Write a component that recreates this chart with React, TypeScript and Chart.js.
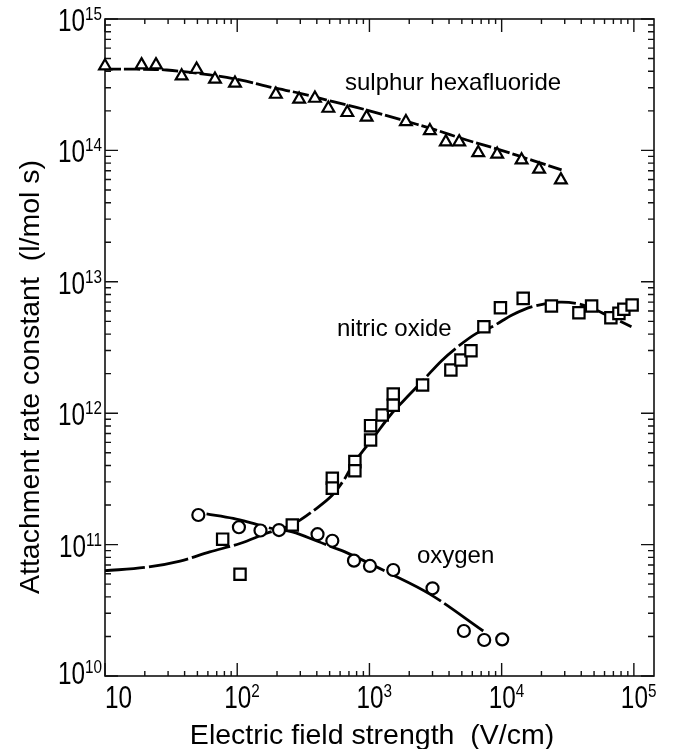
import { useEffect, useRef } from 'react';
import { Chart, registerables } from 'chart.js';

Chart.register(...registerables);

// ---- Data (electric field strength V/cm, attachment rate constant l/mol s) ----
const sf6Field = [10, 18.9, 24.3, 38, 49.3, 67.9, 96.2, 196, 294, 387, 489, 680, 952, 1888, 2865, 3784, 4774, 6650, 9250, 14150, 19200, 28050];
const sf6Rate = [4.39e14, 4.47e14, 4.47e14, 3.68e14, 4.14e14, 3.48e14, 3.24e14, 2.67e14, 2.45e14, 2.49e14, 2.09e14, 1.94e14, 1.79e14, 1.65e14, 1.41e14, 1.16e14, 1.16e14, 9.6e13, 9.34e13, 8.45e13, 7.18e13, 5.96e13];
const sf6FitField = [10, 17.3, 29.3, 62.2, 105, 187, 298, 532, 952, 1702, 3040, 5430, 9700, 17300, 28400];
const sf6FitRate = [4.15e14, 4.15e14, 4.09e14, 3.75e14, 3.44e14, 3.0e14, 2.72e14, 2.35e14, 2.03e14, 1.72e14, 1.45e14, 1.2e14, 1.01e14, 8.36e13, 7.1e13];

const noField = [77.6, 105, 261, 524, 524, 776, 776, 1020, 1020, 1250, 1514, 1514, 2523, 4130, 4920, 5860, 7340, 9790, 14550, 23800, 38400, 47900, 67000, 77100, 84000, 97000];
const noRate = [1.1e11, 5.95e10, 1.41e11, 3.2e11, 2.69e11, 4.28e11, 3.65e11, 8.04e11, 6.25e11, 9.7e11, 1.4e12, 1.15e12, 1.64e12, 2.13e12, 2.54e12, 2.99e12, 4.55e12, 6.35e12, 7.48e12, 6.55e12, 5.82e12, 6.55e12, 5.33e12, 5.75e12, 6.18e12, 6.66e12];
const noFitField = [10, 20, 37, 62, 105, 167, 261, 399, 518, 640, 753, 1069, 1469, 2000, 2600, 3500, 4560, 6450, 8630, 12000, 17300, 27500, 41400, 58600, 95900];
const noFitRate = [6.33e10, 6.7e10, 7.5e10, 8.8e10, 1.02e11, 1.22e11, 1.42e11, 1.89e11, 2.35e11, 3.1e11, 4.1e11, 6.5e11, 9.9e11, 1.38e12, 1.82e12, 2.5e12, 3.15e12, 4.05e12, 4.6e12, 5.6e12, 6.5e12, 7.0e12, 6.66e12, 5.75e12, 4.55e12];

const o2Field = [50.8, 103, 150, 207, 405, 524, 764, 1009, 1514, 3000, 5180, 7380, 10100];
const o2Rate = [1.68e11, 1.355e11, 1.28e11, 1.29e11, 1.2e11, 1.07e11, 7.55e10, 6.88e10, 6.41e10, 4.65e10, 2.2e10, 1.88e10, 1.9e10];
const o2FitField = [58.6, 93.3, 132, 187, 261, 405, 532, 653, 1349, 2865, 7260];
const o2FitRate = [1.71e11, 1.58e11, 1.45e11, 1.32e11, 1.25e11, 1.06e11, 9.5e10, 8.8e10, 6.2e10, 4.2e10, 2.2e10];

// ---- Axes ----
const X_MIN = 10;
const X_MAX = 1.42e5;
const Y_MIN = 1e10;
const Y_MAX = 1e15;
const xDecades = [1, 2, 3, 4, 5];
const yDecades = [10, 11, 12, 13, 14, 15];
const xTitle = 'Electric field strength  (V/cm)';
const yTitle = 'Attachment rate constant  (l/mol s)';

const seriesLabels = [
  { text: 'sulphur hexafluoride', x: 653, y: 2.88e14 },
  { text: 'nitric oxide', x: 568, y: 3.87e12 },
  { text: 'oxygen', x: 2285, y: 7.24e10 },
];

const FONT = '"Liberation Sans", Arial, Helvetica, sans-serif';

function pts(xs: number[], ys: number[]) {
  return xs.map((x, i) => ({ x, y: ys[i] }));
}

function drawText(ctx: CanvasRenderingContext2D, text: string, x: number, y: number, size: number, sx: number, align: CanvasTextAlign) {
  ctx.save();
  ctx.font = `${size}px ${FONT}`;
  const w = ctx.measureText(text).width * sx;
  ctx.translate(x, y);
  ctx.scale(sx, 1);
  ctx.textAlign = align;
  ctx.textBaseline = 'alphabetic';
  ctx.fillStyle = '#000';
  ctx.fillText(text, 0, 0);
  ctx.restore();
  return w;
}

function measure(ctx: CanvasRenderingContext2D, text: string, size: number, sx: number) {
  ctx.save();
  ctx.font = `${size}px ${FONT}`;
  const w = ctx.measureText(text).width * sx;
  ctx.restore();
  return w;
}

const BASE_SIZE = 32;
const BASE_SX = 0.76;
const SUP_SIZE = 18;
const SUP_SX = 0.85;
const TITLE_SIZE = 28.5;

const framePlugin = {
  id: 'logFrame',
  beforeDatasetsDraw(chart: any) {
    const { ctx, chartArea: a, scales } = chart;
    const xs = scales.x;
    const ys = scales.y;
    ctx.save();
    ctx.strokeStyle = '#111';
    ctx.lineWidth = 1.6;
    ctx.strokeRect(a.left, a.top, a.right - a.left, a.bottom - a.top);
    ctx.lineWidth = 1.4;
    ctx.beginPath();
    for (const d of xDecades) {
      for (let k = 1; k <= 9; k++) {
        const v = k * Math.pow(10, d);
        if (v < X_MIN || v > X_MAX) continue;
        const p = xs.getPixelForValue(v);
        const L = k === 1 ? 13 : 5;
        ctx.moveTo(p, a.bottom);
        ctx.lineTo(p, a.bottom - L);
        ctx.moveTo(p, a.top);
        ctx.lineTo(p, a.top + L);
      }
    }
    for (const d of yDecades) {
      for (let k = 1; k <= 9; k++) {
        const v = k * Math.pow(10, d);
        if (v < Y_MIN || v > Y_MAX) continue;
        const p = ys.getPixelForValue(v);
        const L = k === 1 ? 13 : 6;
        ctx.moveTo(a.left, p);
        ctx.lineTo(a.left + L, p);
        ctx.moveTo(a.right, p);
        ctx.lineTo(a.right - L, p);
      }
    }
    ctx.stroke();
    ctx.restore();
  },
  afterDraw(chart: any) {
    const { ctx, chartArea: a, scales } = chart;
    const xs = scales.x;
    const ys = scales.y;
    // x tick labels
    for (const d of xDecades) {
      const p = xs.getPixelForValue(Math.pow(10, d));
      if (d === 1) {
        drawText(ctx, '10', p, 708, BASE_SIZE, BASE_SX, 'left');
      } else {
        const left = p - 13;
        const w = drawText(ctx, '10', left, 708, BASE_SIZE, BASE_SX, 'left');
        drawText(ctx, String(d), left + w, 697, SUP_SIZE, SUP_SX, 'left');
      }
    }
    // y tick labels
    for (const d of yDecades) {
      const p = ys.getPixelForValue(Math.pow(10, d));
      const ws = measure(ctx, String(d), SUP_SIZE, SUP_SX);
      const supLeft = a.left - 3 - ws;
      const off = d === 10 ? -4 : 0;
      drawText(ctx, String(d), supLeft, p + 1 + off, SUP_SIZE, SUP_SX, 'left');
      drawText(ctx, '10', supLeft, p + 12 + off, BASE_SIZE, BASE_SX, 'right');
    }
    // axis titles
    drawText(ctx, xTitle, 372, 744, TITLE_SIZE, 1, 'center');
    ctx.save();
    ctx.translate(39, 377);
    ctx.rotate(-Math.PI / 2);
    drawText(ctx, yTitle, 0, 0, TITLE_SIZE, 1, 'center');
    ctx.restore();
    // series labels
    for (const l of seriesLabels) {
      drawText(ctx, l.text, xs.getPixelForValue(l.x), ys.getPixelForValue(l.y), 24, 1, 'left');
    }
  },
};

export default function App() {
  const ref = useRef<HTMLCanvasElement>(null);
  useEffect(() => {
    document.body.style.margin = '0';
    const canvas = ref.current!;
    const marker = (data: any, style: string, r: number) => ({
      data,
      pointStyle: style,
      pointRadius: r,
      pointBorderWidth: 2.2,
      pointBorderColor: '#000',
      pointBackgroundColor: '#fff',
      borderColor: '#000',
      backgroundColor: '#fff',
      showLine: false,
      order: 0,
      clip: false,
    });
    const fit = (data: any, dash: number[]) => ({
      data,
      showLine: true,
      pointRadius: 0,
      borderColor: '#000',
      borderWidth: 2.8,
      borderDash: dash,
      tension: 0.35,
      order: 1,
      clip: false,
    });
    const chart = new Chart(canvas, {
      type: 'scatter',
      data: {
        datasets: [
          { label: 'sulphur hexafluoride', ...marker(pts(sf6Field, sf6Rate), 'triangle', 6.8) },
          { label: 'nitric oxide', ...marker(pts(noField, noRate), 'rect', 8) },
          { label: 'oxygen', ...marker(pts(o2Field, o2Rate), 'circle', 6) },
          { label: 'sulphur hexafluoride fit', ...fit(pts(sf6FitField, sf6FitRate), [16, 3]) },
          { label: 'nitric oxide fit', ...fit(pts(noFitField, noFitRate), [40, 4]) },
          { label: 'oxygen fit', ...fit(pts(o2FitField, o2FitRate), [60, 4]) },
        ] as any,
      },
      options: {
        responsive: false,
        maintainAspectRatio: false,
        animation: false,
        events: [],
        layout: { padding: { left: 105, right: 20, top: 19, bottom: 73 } },
        plugins: { legend: { display: false }, tooltip: { enabled: false } },
        scales: {
          x: { type: 'logarithmic', min: X_MIN, max: X_MAX, display: false },
          y: { type: 'logarithmic', min: Y_MIN, max: Y_MAX, display: false },
        },
      },
      plugins: [framePlugin],
    });
    return () => chart.destroy();
  }, []);
  return <canvas ref={ref} width={674} height={749} style={{ display: 'block' }} />;
}
